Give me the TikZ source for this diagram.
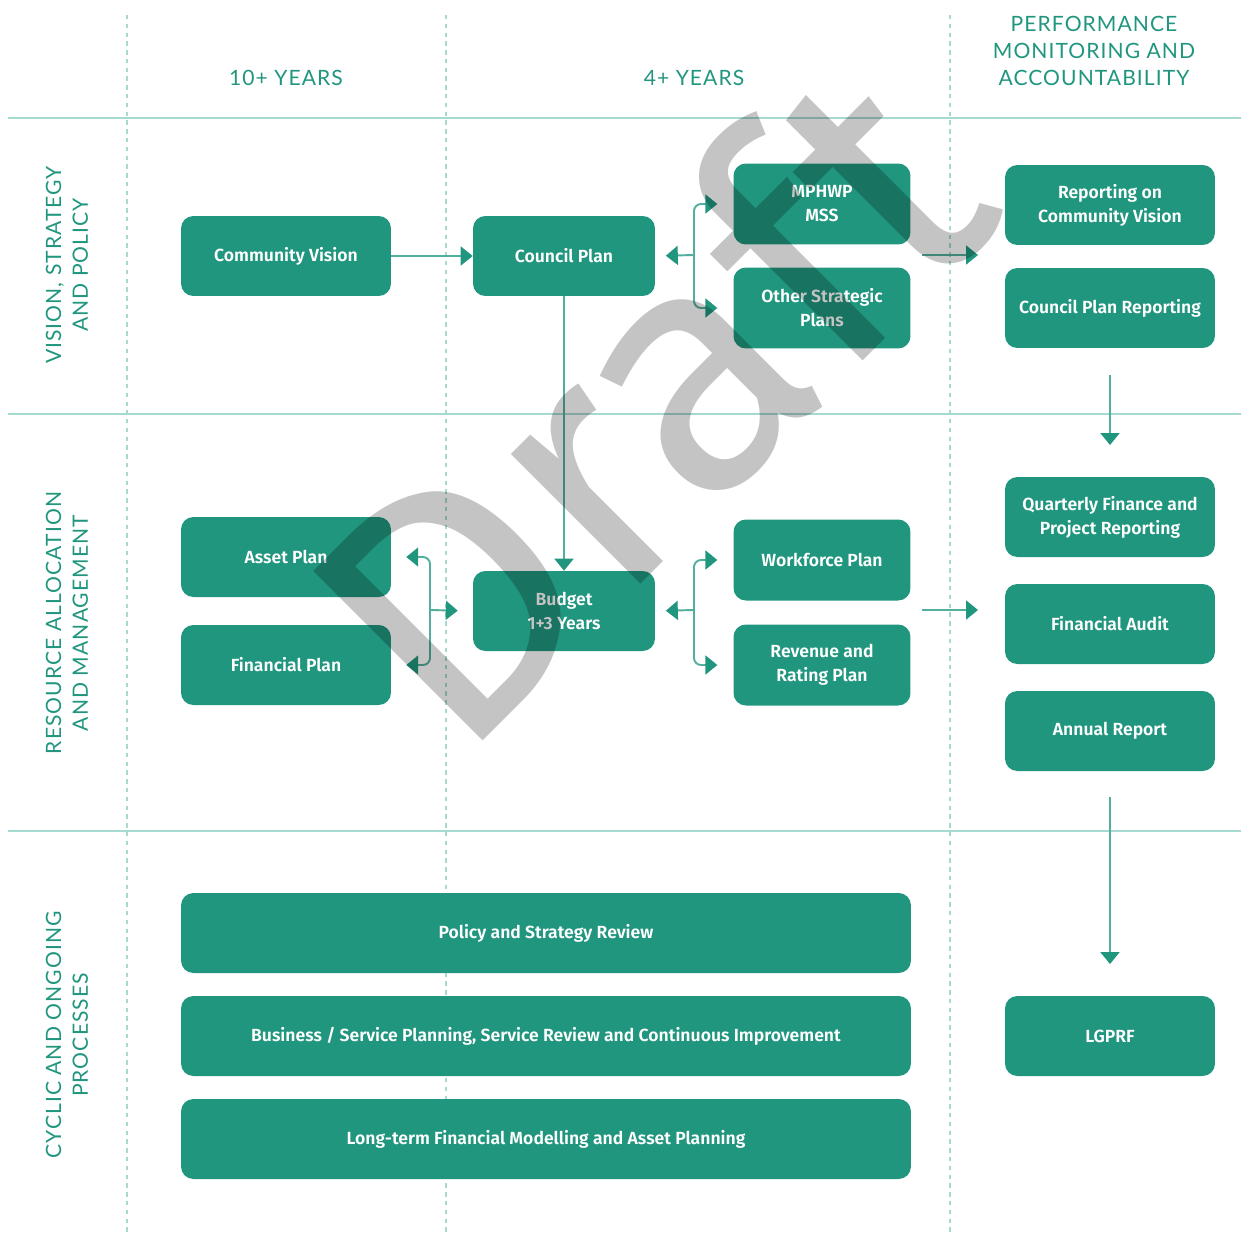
\documentclass[tikz,border=0pt]{standalone}
\usepackage{fontspec}
\setmainfont{Fira Sans}[BoldFont={Fira Sans SemiBold}]
\newfontfamily\capsfont[LetterSpace=5]{Lato}
\usetikzlibrary{arrows.meta}
\definecolor{green1}{HTML}{21967F}
\definecolor{rule1}{HTML}{A6D9CF}
\definecolor{link1}{HTML}{52AE9D}

\begin{document}
\begin{tikzpicture}[x=0.02cm, y=-0.02cm,
  box/.style={fill=green1, rounded corners=7pt, text=white, align=center, inner sep=0pt, font=\fontsize{10}{13.6}\selectfont\bfseries},
  wide/.style={box, minimum width=4.2cm, minimum height=1.6cm},
  mid/.style={box, minimum width=3.64cm, minimum height=1.6cm},
  narrow/.style={box, minimum width=3.54cm, minimum height=1.62cm},
  strip/.style={box, minimum width=14.6cm, minimum height=1.6cm},
  head/.style={text=green1, align=center, font=\capsfont\fontsize{12}{15.3}\selectfont},
  lane/.style={head, rotate=90},
  rule/.style={draw=rule1, line width=1.1pt},
  guide/.style={draw=rule1, line width=0.8pt, dash pattern=on 2.5pt off 2.5pt},
  link/.style={draw=link1, line width=1.1pt, -{Triangle[length=6.8pt, width=10.8pt, color=green1]}},
  elbow/.style={link, rounded corners=4pt}]
\useasboundingbox (0,0) rectangle (1241,1234);
\foreach \y in {118,414,831} \draw[rule] (8,\y) -- (1241,\y);
\foreach \x in {127,446,950} \draw[guide] (\x,15) -- (\x,1234);

\node[head] (h1) at (286,78) {10+ YEARS};
\node[head] (h2) at (694,78) {4+ YEARS};
\node[head] (h3) at (1094,51) {PERFORMANCE\\MONITORING AND\\ACCOUNTABILITY};
\node[lane] (l1) at (67,265) {VISION, STRATEGY\\AND POLICY};
\node[lane] (l2) at (67,623) {RESOURCE ALLOCATION\\AND MANAGEMENT};
\node[lane] (l3) at (67,1035) {CYCLIC AND ONGOING\\PROCESSES};

\node[wide] (vision) at (286,256) {Community Vision};
\node[mid] (council) at (564,256) {Council Plan};
\node[narrow] (mss) at (822,204) {MPHWP\\MSS};
\node[narrow] (other) at (822,308) {Other Strategic\\Plans};
\node[wide] (repvision) at (1110,205) {Reporting on\\Community Vision};
\node[wide] (repcouncil) at (1110,308) {Council Plan Reporting};
\node[wide] (asset) at (286,557) {Asset Plan};
\node[wide] (finplan) at (286,665) {Financial Plan};
\node[mid] (budget) at (564,611) {Budget\\1+3 Years};
\node[narrow] (workforce) at (822,560) {Workforce Plan};
\node[narrow] (revenue) at (822,665) {Revenue and\\Rating Plan};
\node[wide] (quarterly) at (1110,517) {Quarterly Finance and\\Project Reporting};
\node[wide] (audit) at (1110,624) {Financial Audit};
\node[wide] (annual) at (1110,731) {Annual Report};
\node[strip] (policy) at (546,933) {Policy and Strategy Review};
\node[strip] (business) at (546,1036) {Business / Service Planning, Service Review and Continuous Improvement};
\node[strip] (longterm) at (546,1139) {Long-term Financial Modelling and Asset Planning};
\node[wide] (lgprf) at (1110,1036) {LGPRF};

\coordinate (j1) at (694,255);
\coordinate (j2) at (430,610);
\coordinate (j3) at (694,610);
\coordinate (o1) at (922,255);
\coordinate (t1) at (978,255);
\coordinate (o2) at (922,610);
\coordinate (t2) at (978,610);

\draw[link] (vision) -- (council);
\draw[link] (council) -- (budget);
\draw[link, shorten >=6pt] (j1) -- (council.east);
\draw[elbow, shorten >=9pt] (j1) |- (mss.west);
\draw[elbow, shorten >=9pt] (j1) |- (other.west);
\draw[link] (o1) -- (t1);
\draw[link, shorten >=8.5pt] (j2) -- (budget.west);
\draw[elbow, shorten >=8.5pt] (j2) |- (asset.east);
\draw[elbow, shorten >=8.5pt] (j2) |- (finplan.east);
\draw[link, shorten >=6pt] (j3) -- (budget.east);
\draw[elbow, shorten >=9pt] (j3) |- (workforce.west);
\draw[elbow, shorten >=9pt] (j3) |- (revenue.west);
\draw[link] (o2) -- (t2);
\draw[link, shorten <=15pt, shorten >=18pt] (repcouncil) -- (quarterly);
\draw[link, shorten <=14.7pt, shorten >=18pt] (annual) -- (lgprf);

\node[text=black, opacity=0.23, rotate=45, font=\fontsize{198}{200}\selectfont] (draft) at (643,400) {Draft};
\end{tikzpicture}
\end{document}
